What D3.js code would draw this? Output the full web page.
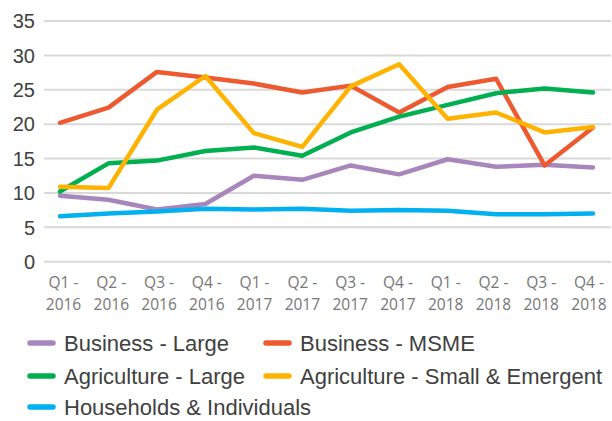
<!DOCTYPE html>
<html>
<head>
<meta charset="utf-8">
<script src="https://cdn.jsdelivr.net/npm/d3@7"></script>
<style>
  body { margin: 0; background: #fff; }
  svg { display: block; }
</style>
</head>
<body>
<div id="chart"></div>
<script>
// Quarters on the x axis (two-line labels)
const quarters = ["Q1 - 2016", "Q2 - 2016", "Q3 - 2016", "Q4 - 2016",
                  "Q1 - 2017", "Q2 - 2017", "Q3 - 2017", "Q4 - 2017",
                  "Q1 - 2018", "Q2 - 2018", "Q3 - 2018", "Q4 - 2018"];

const businessLarge = [9.6, 9.0, 7.6, 8.4, 12.5, 11.9, 14.0, 12.7, 14.9, 13.8, 14.1, 13.7];
const businessMSME = [20.2, 22.4, 27.6, 26.8, 25.9, 24.6, 25.6, 21.7, 25.4, 26.6, 14.0, 19.5];
const agriLarge = [10.2, 14.3, 14.7, 16.1, 16.6, 15.4, 18.8, 21.1, 22.8, 24.5, 25.2, 24.6];
const agriSmall = [10.9, 10.7, 22.1, 27.0, 18.7, 16.7, 25.5, 28.7, 20.8, 21.7, 18.8, 19.6];
const households = [6.6, 7.0, 7.3, 7.7, 7.6, 7.7, 7.4, 7.5, 7.4, 6.9, 6.9, 7.0];

const yTicks = [0, 5, 10, 15, 20, 25, 30, 35];

const series = [
  { name: "Business - Large", values: businessLarge, color: "#A886BC" },
  { name: "Business - MSME", values: businessMSME, color: "#EE5A30" },
  { name: "Agriculture - Large", values: agriLarge, color: "#00B050" },
  { name: "Agriculture - Small & Emergent", values: agriSmall, color: "#FFB300" },
  { name: "Households & Individuals", values: households, color: "#00B0F0" }
];

const width = 612, height = 421;

const svg = d3.select("#chart").append("svg")
    .attr("width", width)
    .attr("height", height);

const x = d3.scalePoint()
    .domain(quarters)
    .range([60, 593]);

// labels sit on a slightly tighter spread than the points
const xLab = d3.scalePoint()
    .domain(quarters)
    .range([63.5, 589]);

const y = d3.scaleLinear()
    .domain([0, 35])
    .range([261.7, 21]);

// Gridlines
svg.append("g")
    .selectAll("line")
    .data(yTicks)
    .enter()
    .append("line")
    .attr("x1", 44)
    .attr("x2", 611)
    .attr("y1", d => y(d))
    .attr("y2", d => y(d))
    .attr("stroke", "#D9D9D9")
    .attr("stroke-width", 2);

// Y axis labels
svg.append("g")
    .attr("font-family", "'Liberation Sans', Arial, sans-serif")
    .attr("font-size", "20px")
    .attr("fill", "#404040")
    .attr("text-anchor", "end")
    .selectAll("text")
    .data(yTicks)
    .enter()
    .append("text")
    .attr("x", 35)
    .attr("y", d => y(d))
    .attr("dy", "0.36em")
    .text(d => d);

// X axis labels, split on two lines
const xl = svg.append("g")
    .attr("font-family", "'Open Sans', 'Liberation Sans', sans-serif")
    .attr("font-size", "15.5px")
    .attr("fill", "#767676")
    .attr("text-anchor", "middle")
    .selectAll("text")
    .data(quarters)
    .enter()
    .append("text")
    .attr("transform", d => `translate(${xLab(d)},0)`);

xl.append("tspan").attr("x", 0).attr("y", 288).text(d => d.split(" - ")[0] + " -");
xl.append("tspan").attr("x", 0).attr("y", 310).text(d => d.split(" - ")[1]);

// Lines
const line = d3.line()
    .x((d, i) => x(quarters[i]))
    .y(d => y(d));

svg.append("g")
    .selectAll("path")
    .data(series)
    .enter()
    .append("path")
    .attr("d", d => line(d.values))
    .attr("fill", "none")
    .attr("stroke", d => d.color)
    .attr("stroke-width", 4.5)
    .attr("stroke-linejoin", "round")
    .attr("stroke-linecap", "round");

// Legend
const legendPos = [
  [28, 343], [264, 343],
  [28, 376], [264, 376],
  [28, 407]
];

const legend = svg.append("g")
    .attr("font-family", "'Liberation Sans', Arial, sans-serif")
    .attr("font-size", "22px")
    .attr("fill", "#404040")
    .selectAll("g")
    .data(series)
    .enter()
    .append("g")
    .attr("transform", (d, i) => `translate(${legendPos[i][0]},${legendPos[i][1]})`);

legend.append("line")
    .attr("x1", 2).attr("x2", 25)
    .attr("y1", 0).attr("y2", 0)
    .attr("stroke", d => d.color)
    .attr("stroke-width", 5.5)
    .attr("stroke-linecap", "round");

legend.append("text")
    .attr("x", 36)
    .attr("dy", "0.35em")
    .text(d => d.name);
</script>
</body>
</html>
